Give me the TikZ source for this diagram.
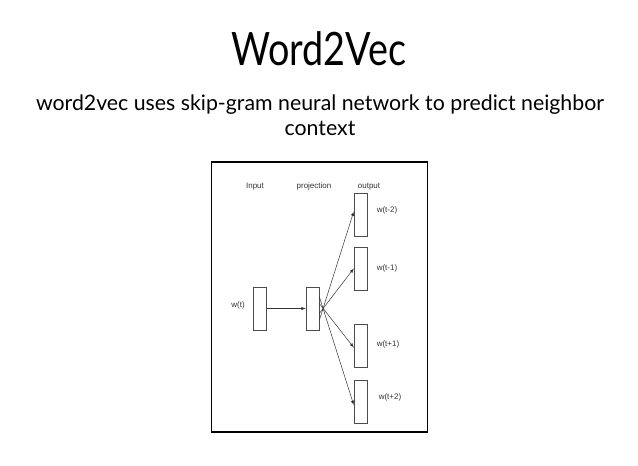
\documentclass[tikz,border=0pt]{standalone}
\usepackage{fontspec}
\setmainfont{Lato}
\newfontfamily\arialf{Liberation Sans}
\begin{document}
\begin{tikzpicture}[x=1pt,y=-1pt,
  box/.style={draw=black!70,line width=0.5pt,minimum width=13pt,minimum height=43pt,inner sep=0pt},
  lab/.style={font=\arialf\fontsize{8}{9}\selectfont,text=black!80},
  hd/.style={lab,anchor=base},
  arr/.style={-latex,line width=0.5pt,black!80}]
\useasboundingbox (0,0) rectangle (638,466);
\node (title) at (319,49) {\fontsize{46}{50}\selectfont\addfontfeature{FakeStretch=0.82}Word2Vec};
\node (sub) [align=center,font=\fontsize{21.3}{25}\selectfont] at (320,115) {word2vec uses skip-gram neural network to predict neighbor\\context};
\node (frame) [draw,line width=1.4pt,minimum width=216pt,minimum height=270pt,inner sep=0pt] at (319.5,297) {};
\node (in) [box] at (260,308.5) {};
\node (pr) [box] at (312.5,308.5) {};
\node (o1) [box] at (360.5,214.5) {};
\node (o2) [box] at (360.5,268.5) {};
\node (o3) [box] at (360.5,345.5) {};
\node (o4) [box] at (360.5,402) {};
\node[hd] (h1) at (255,188) {Input};
\node[hd] (h2) at (314,188) {projection};
\node[hd] (h3) at (369,188) {output};
\node[lab] at (238,305) {w(t)};
\node[lab] at (387,210) {w(t-2)};
\node[lab] at (387,268) {w(t-1)};
\node[lab] at (388,344) {w(t+1)};
\node[lab] at (390,397) {w(t+2)};
\draw[arr] (in.east) -- (pr.west);
\draw[arr] ([yshift=-12pt]pr.east) -- ([yshift=3pt]o1.west);
\draw[arr] ([yshift=-5pt]pr.east) -- ([yshift=0pt]o2.west);
\draw[arr] ([yshift=5pt]pr.east) -- ([yshift=-2pt]o3.west);
\draw[arr] ([yshift=12pt]pr.east) -- ([yshift=-3pt]o4.west);
\end{tikzpicture}
\end{document}
